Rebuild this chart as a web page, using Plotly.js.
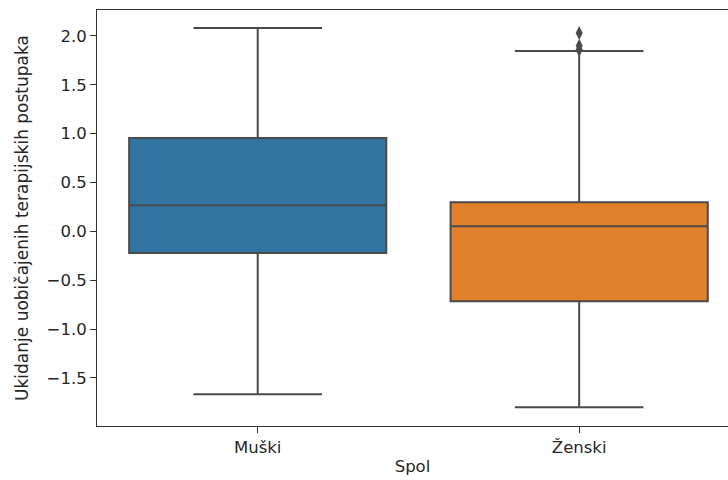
<!DOCTYPE html>
<html>
<head>
<meta charset="utf-8">
<script src="https://cdn.plot.ly/plotly-3.0.1.min.js"></script>
<style>html,body{margin:0;padding:0;background:#fff;}</style>
</head>
<body>
<div id="chart" style="width:728px;height:480px;"></div>
<script>
const categories = ['Muški', 'Ženski'];
const q1 = [-0.223, -0.715];
const median = [0.268, 0.053];
const q3 = [0.955, 0.299];
const lowerFence = [-1.668, -1.80];
const upperFence = [2.082, 1.846];
const outlierCategory = ['Ženski', 'Ženski', 'Ženski'];
const outlierValues = [2.03, 1.90, 1.86];
const colors = ['#3274a1', '#e1812c'];
const yTickVals = [-1.5, -1.0, -0.5, 0.0, 0.5, 1.0, 1.5, 2.0];
const yTickText = ['\u22121.5', '\u22121.0', '\u22120.5', '0.0', '0.5', '1.0', '1.5', '2.0'];

const lineCol = '#4a4a4a';
const traces = categories.map((c, i) => ({
  type: 'box',
  x: [c],
  q1: [q1[i]],
  median: [median[i]],
  q3: [q3[i]],
  lowerfence: [lowerFence[i]],
  upperfence: [upperFence[i]],
  fillcolor: colors[i],
  line: {color: lineCol, width: 2},
  width: 0.8,
  whiskerwidth: 0.5,
  boxpoints: false,
  showlegend: false,
  hoverinfo: 'skip'
}));
traces.push({
  type: 'scatter',
  mode: 'markers',
  x: outlierCategory,
  y: outlierValues,
  marker: {symbol: 'diamond-tall', size: 10, color: lineCol},
  showlegend: false,
  hoverinfo: 'skip'
});

const font = {family: 'DejaVu Sans, sans-serif', size: 16.5, color: '#262626'};
const layout = {
  width: 728,
  height: 480,
  margin: {l: 97, r: 0, t: 10, b: 54},
  paper_bgcolor: '#fff',
  plot_bgcolor: '#fff',
  font: font,
  boxmode: 'overlay',
  xaxis: {
    type: 'category',
    categoryarray: categories,
    range: [-0.5, 1.463],
    showline: true, linecolor: '#333', linewidth: 1, mirror: true,
    ticks: 'outside', ticklen: 6, tickcolor: '#333',
    showgrid: false, zeroline: false,
    tickfont: font,
    title: {text: 'Spol', font: font, standoff: 4}
  },
  yaxis: {
    range: [-1.993, 2.266],
    tickvals: yTickVals,
    ticktext: yTickText,
    showline: true, linecolor: '#333', linewidth: 1,
    ticks: 'outside', ticklen: 6, tickcolor: '#333',
    showgrid: false, zeroline: false,
    tickfont: font,
    title: {text: 'Ukidanje uobičajenih terapijskih postupaka', font: Object.assign({}, font, {size: 17}), standoff: 13}
  }
};
Plotly.newPlot('chart', traces, layout, {displayModeBar: false, staticPlot: true});
</script>
</body>
</html>
